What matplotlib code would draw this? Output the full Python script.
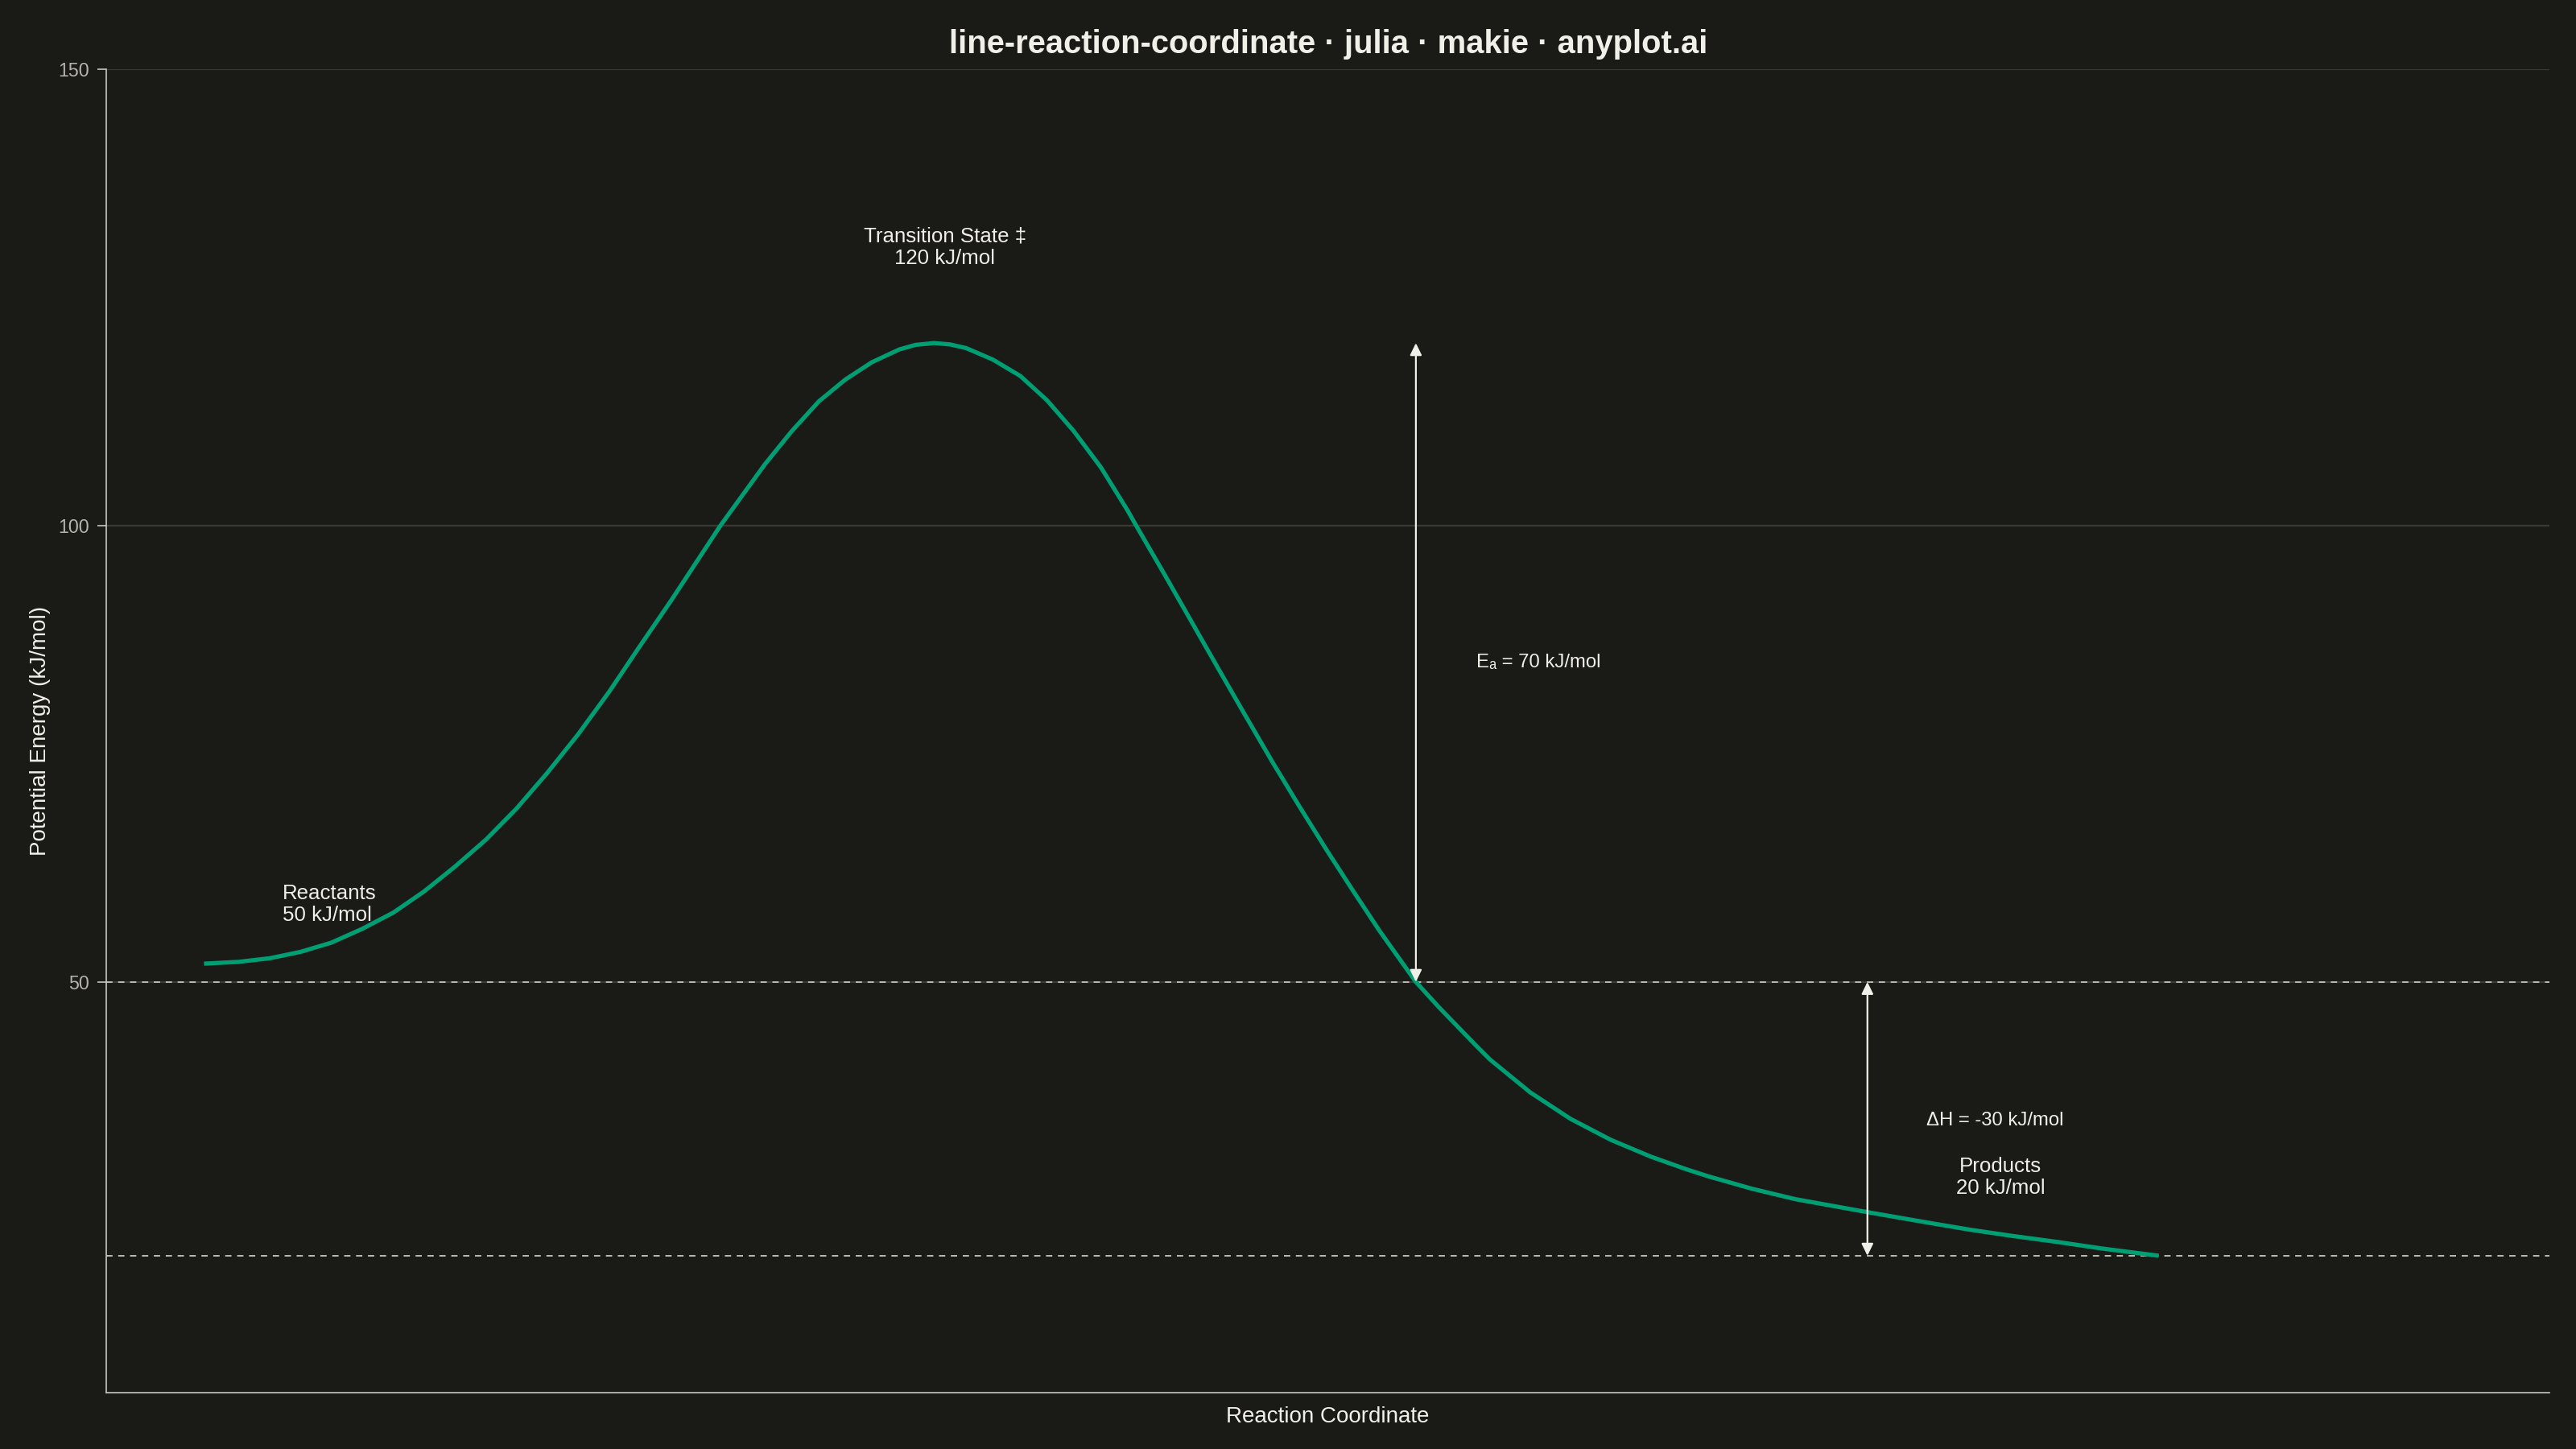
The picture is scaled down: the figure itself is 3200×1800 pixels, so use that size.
import numpy as np
import matplotlib
matplotlib.use("Agg")
import matplotlib.pyplot as plt

# energy profile (reaction coordinate, kJ/mol)
coord = [0.000, 0.177, 0.338, 0.495, 0.651, 0.808, 0.969, 1.125, 1.282, 1.443,
         1.599, 1.756, 1.913, 2.073, 2.230, 2.387, 2.642, 2.869, 3.005, 3.145,
         3.281, 3.417, 3.557, 3.640, 3.735, 3.817, 3.899, 4.035, 4.176, 4.312,
         4.448, 4.588, 4.724, 4.769, 4.918, 5.054, 5.190, 5.330, 5.466, 5.602,
         5.742, 5.878, 6.014, 6.200, 6.319, 6.509, 6.579, 6.785, 6.991, 7.197,
         7.403, 7.580, 7.696, 7.918, 8.141, 8.504, 8.813, 9.035, 9.258, 9.485,
         9.707, 10.000]
energy = [52.0, 52.2, 52.6, 53.3, 54.3, 55.8, 57.6, 59.9, 62.6, 65.6,
          69.0, 72.9, 77.1, 81.8, 86.8, 91.7, 100.0, 106.7, 110.3, 113.6,
          116.0, 117.9, 119.3, 119.8, 120.0, 119.85, 119.45, 118.2, 116.4, 113.75,
          110.4, 106.4, 101.7, 100.0, 94.5, 89.4, 84.3, 79.1, 74.1, 69.3,
          64.5, 60.0, 55.6, 50.0, 47.2, 43.0, 41.5, 37.9, 35.0, 32.7,
          30.85, 29.5, 28.7, 27.35, 26.2, 24.8, 23.65, 22.85, 22.15, 21.5,
          20.8, 20.0]

E_react = 50
E_ts = 120
E_prod = 20
x_ea = 6.20
x_dh = 8.51

BG = "#1A1A17"
INK = "#F0EFE8"
SOFT = "#B5B4AC"
GREEN = "#009E73"

plt.rcParams["font.family"] = ["Liberation Sans", "DejaVu Sans"]

fig = plt.figure(figsize=(16, 9), dpi=200, facecolor=BG)
ax = fig.add_axes([0.04125, 0.0389, 0.9485, 0.9133])
ax.set_facecolor(BG)

ax.yaxis.grid(True, color="#3A3A35", lw=0.8)
ax.set_axisbelow(True)

ax.axhline(E_react, color="#BDBCB4", lw=0.7, ls=(0, (4, 3.6)), zorder=2)
ax.axhline(E_prod, color="#BDBCB4", lw=0.7, ls=(0, (4, 3.6)), zorder=2)

ax.plot(coord, energy, color=GREEN, lw=1.9, solid_capstyle="butt",
        solid_joinstyle="round", zorder=3)

arrow = dict(arrowstyle="<|-|>,head_length=0.45,head_width=0.22", color=INK,
             lw=0.8, mutation_scale=10, shrinkA=0, shrinkB=0)
ax.annotate("", xy=(x_ea, E_ts), xytext=(x_ea, E_react), arrowprops=arrow, zorder=4)
ax.annotate("", xy=(x_dh, E_react), xytext=(x_dh, E_prod), arrowprops=arrow, zorder=4)

ax.text(3.79, 130.5, "Transition State ‡\n120 kJ/mol", color=INK, fontsize=9.3,
        ha="center", va="center", linespacing=1.15)
ax.text(0.40, 58.5, "Reactants\n50 kJ/mol", color=INK, fontsize=9.3,
        ha="left", va="center", linespacing=1.15)
ax.text(9.19, 28.6, "Products\n20 kJ/mol", color=INK, fontsize=9.3,
        ha="center", va="center", linespacing=1.15)
ax.text(6.51, 85, "Eₐ = 70 kJ/mol", color=INK, fontsize=8.6, ha="left", va="center")
ax.text(8.81, 34.8, "ΔH = -30 kJ/mol", color=INK, fontsize=8.6, ha="left", va="center")

ax.set_xlim(-0.5, 12.0)
ax.set_ylim(5, 150)
ax.set_xticks([])
ax.set_yticks([50, 100, 150])
ax.tick_params(axis="y", colors="#C8C7BF", labelcolor=SOFT, labelsize=8.4,
               length=4, width=0.6, pad=3.5)

for side in ["top", "right"]:
    ax.spines[side].set_visible(False)
for side in ["left", "bottom"]:
    ax.spines[side].set_color("#C8C7BF")
    ax.spines[side].set_linewidth(0.6)

ax.set_xlabel("Reaction Coordinate", color=INK, fontsize=10, labelpad=6)
ax.set_ylabel("Potential Energy (kJ/mol)", color=INK, fontsize=10, labelpad=3.5)

fig.text(0.5156, 1 - 55 / 1800, "line-reaction-coordinate · julia · makie · anyplot.ai",
         color=INK, fontsize=14.4, fontweight="bold", ha="center", va="center")

fig.savefig("out.png", dpi=200, facecolor=BG)
